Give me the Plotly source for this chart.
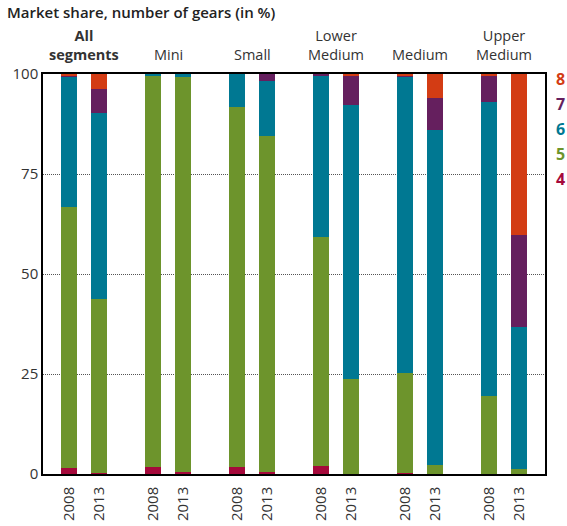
import plotly.graph_objects as go

groups = ["<b>All</b><br><b>segments</b>", "Mini", "Small", "Lower<br>Medium", "Medium", "Upper<br>Medium"]
years = ["2008", "2013"]

# Shares (%) per bar, order: All 2008, All 2013, Mini 2008, Mini 2013, Small 2008, Small 2013,
# LowerMed 2008, LowerMed 2013, Medium 2008, Medium 2013, UpperMed 2008, UpperMed 2013
gear4 = [1.6, 0.2, 1.8, 0.6, 1.8, 0.6, 2.1, 0.0, 0.3, 0.0, 0.0, 0.0]
gear5 = [65.2, 43.6, 97.9, 98.7, 90.0, 84.0, 57.2, 23.8, 25.0, 2.3, 19.6, 1.3]
gear6 = [32.6, 46.4, 0.3, 0.7, 8.2, 13.7, 40.4, 68.5, 74.0, 83.8, 73.5, 35.5]
gear7 = [0.3, 6.1, 0.0, 0.0, 0.0, 1.7, 0.3, 7.4, 0.3, 8.0, 6.6, 23.0]
gear8 = [0.3, 3.7, 0.0, 0.0, 0.0, 0.0, 0.0, 0.3, 0.4, 5.9, 0.3, 40.2]

series = [
    ("4", gear4, "#A5093B"),
    ("5", gear5, "#6D942C"),
    ("6", gear6, "#007892"),
    ("7", gear7, "#651F5E"),
    ("8", gear8, "#D33C14"),
]

GAP = 2.8
xpos = []
xlabels = []
for gi in range(len(groups)):
    for yi, yr in enumerate(years):
        xpos.append(gi * GAP + yi)
        xlabels.append(yr)

fig = go.Figure()
for name, vals, col in series:
    fig.add_trace(go.Bar(x=xpos, y=vals, name=name, marker=dict(color=col, line=dict(width=0)),
                         width=0.533, showlegend=False))

font_family = "Open Sans, sans-serif"
txt = "#333333"

fig.update_layout(
    barmode="stack",
    width=567, height=526,
    margin=dict(l=43, r=22, t=74, b=52, autoexpand=False),
    plot_bgcolor="white", paper_bgcolor="white",
    font=dict(family=font_family, size=15, color=txt),
    bargap=0,
)
fig.update_xaxes(
    range=[-0.867, (len(groups) - 1) * GAP + 1 + 0.867],
    tickvals=xpos, ticktext=xlabels, tickangle=-90,
    showline=True, linecolor="black", linewidth=1.5, mirror=True,
    ticks="", showgrid=False, zeroline=False, ticklabelstandoff=5, automargin=False,
    tickfont=dict(size=15, color=txt),
)
fig.update_yaxes(
    range=[0, 100], tickvals=[0, 25, 50, 75, 100],
    showline=True, linecolor="black", linewidth=1.5, mirror=True,
    showgrid=True, gridcolor="#555555", griddash="1px,1px", gridwidth=1,
    zeroline=False, ticks="", automargin=False, tickfont=dict(size=15, color=txt),
)

ann = [dict(text="Market share, number of gears (in %)", xref="paper", yref="paper",
            x=-38 / 502, y=1 + 62 / 400, xanchor="left", yanchor="middle", showarrow=False,
            font=dict(size=15, color="#222222", weight=600))]
for gi, g in enumerate(groups):
    ann.append(dict(text=g, x=gi * GAP + 0.5, xref="x", y=1 + 8 / 400, yref="paper",
                    xanchor="center", yanchor="bottom", showarrow=False,
                    font=dict(size=14.5, color=txt)))
for i, (name, vals, col) in enumerate(series):
    ann.append(dict(text="<b>" + name + "</b>", xref="paper", yref="paper",
                    x=1 + 15 / 502, y=1 - (179 - 25 * i - 74) / 400,
                    xanchor="center", yanchor="middle", showarrow=False,
                    font=dict(size=16, color=col)))
fig.update_layout(annotations=ann)

fig.write_html("out.html", config={"displayModeBar": False},
               post_script="document.body.style.margin='0';document.body.style.overflow='hidden';")
